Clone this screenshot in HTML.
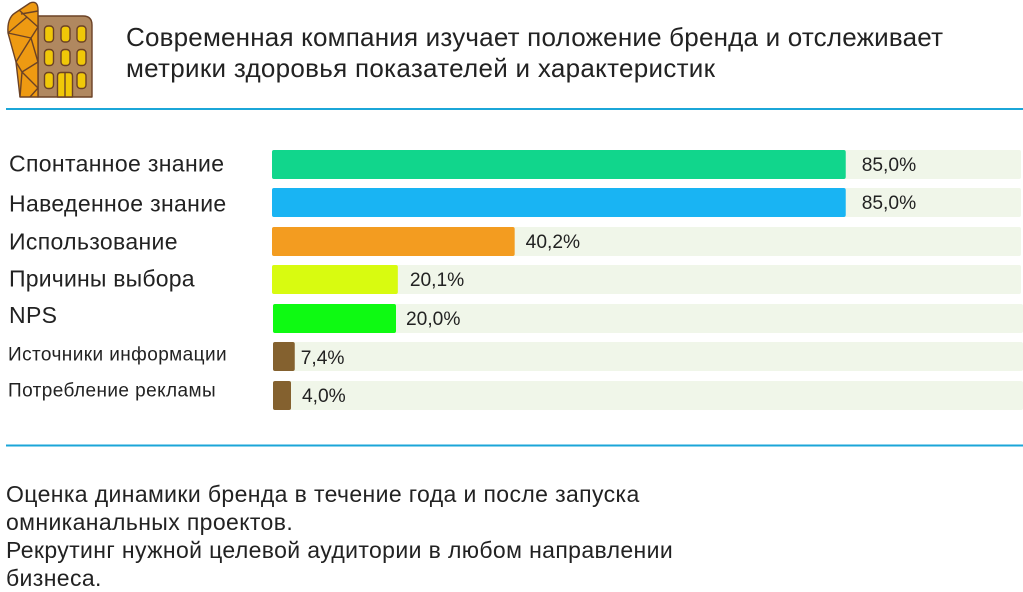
<!DOCTYPE html>
<html lang="ru">
<head>
<meta charset="utf-8">
<title>Метрики бренда</title>
<style>
html,body{margin:0;padding:0;background:#fff;width:1023px;height:592px;overflow:hidden}
svg{display:block}
text{font-family:"Liberation Sans","DejaVu Sans",sans-serif;fill:#222}
</style>
</head>
<body>
<svg id="chart" width="1023" height="592" viewBox="0 0 1023 592" xmlns="http://www.w3.org/2000/svg">
  <g stroke="#6b4226" stroke-width="1.4" stroke-linejoin="round">
    <path d="M38 16H83Q92 16 92 25V97H38Z" fill="#b08860"/>
    <path d="M20 97L16 62L8 33Q7 18 15 13L30 3Q38 0 38 10V97Z" fill="#ee9a12"/>
    <path d="M19 10L38 27M21 14L38 11M8 33L27 17M8 33L31 38L38 27M31 38L16 62M16 62L22 72M22 72L38 62M31 38L38 62M22 72L38 88M22 72L20 97M30 97L38 88" fill="none"/>
    <g fill="#f0c808">
      <rect x="44.500" y="26" width="9" height="16" rx="3.500"/>
      <rect x="61" y="26" width="9" height="16" rx="3.500"/>
      <rect x="77" y="26" width="9" height="16" rx="3.500"/>
      <rect x="44.500" y="49.500" width="9" height="16" rx="3.500"/>
      <rect x="61" y="49.500" width="9" height="16" rx="3.500"/>
      <rect x="77" y="49.500" width="9" height="16" rx="3.500"/>
      <rect x="44.500" y="72.500" width="9" height="16" rx="3.500"/>
      <rect x="77" y="72.500" width="9" height="16" rx="3.500"/>
      <path d="M57.500 97V76Q57.500 72.500 61 72.500H69Q72.500 72.500 72.500 76V97Z"/>
      <path d="M65 72.500V97" fill="none"/>
    </g>
  </g>
  <text x="126" y="46" font-size="26" textLength="817" lengthAdjust="spacing">Современная компания изучает положение бренда и отслеживает</text>
  <text x="126" y="77" font-size="26" textLength="589" lengthAdjust="spacing">метрики здоровья показателей и характеристик</text>
  <rect x="6" y="108" width="1017" height="2" fill="#1ba6d8"/>
  <g id="bars"></g>
  <rect x="6" y="444.500" width="1017" height="2" fill="#1ba6d8"/>
  <g font-size="23" letter-spacing="0.38">
    <text x="6" y="502">Оценка динамики бренда в течение года и после запуска</text>
    <text x="6" y="530">омниканальных проектов.</text>
    <text x="6" y="558">Рекрутинг нужной целевой аудитории в любом направлении</text>
    <text x="6" y="586">бизнеса.</text>
  </g>
</svg>
<script>
const categories = ['Спонтанное знание', 'Наведенное знание', 'Использование', 'Причины выбора', 'NPS', 'Источники информации', 'Потребление рекламы'];
const fillShare = [76.6, 76.6, 32.4, 16.8, 16.4, 2.9, 2.4];
const valueLabels = ['85,0%', '85,0%', '40,2%', '20,1%', '20,0%', '7,4%', '4,0%'];
const barColors = ['#11d68c', '#19b4f3', '#f39c20', '#d8fb10', '#0efa12', '#84612f', '#84612f'];

const NS = 'http://www.w3.org/2000/svg';
const group = document.getElementById('bars');
const labelNudge = [0, 2.5, 1.5, 1, 0, 0, -3];
const valueGap = [16, 16, 11, 12, 10, 6, 11];
function rowTop(i) { return Math.floor(150 + 38.5 * i); }
function trackLeft(i) { return i < 4 ? 272 : 273; }
function trackWidth(i) { return i < 4 ? 749 : 750; }
function xScale(v, i) { return trackWidth(i) * v / 100; }
function labelSize(i) { return i < 5 ? 23 : 19; }
function labelSpacing(i) { return i === 3 ? 0.2 : (i < 5 ? 0.35 : 0.42); }
function labelBaseline(i) { return rowTop(i) + (i < 4 ? 21.5 - i * 0.3 : (i === 4 ? 19 : 18.5)) + labelNudge[i]; }

categories.forEach(function (name, i) {
  const top = rowTop(i);
  const left = trackLeft(i);
  const w = xScale(fillShare[i], i);

  const label = document.createElementNS(NS, 'text');
  
  
  label.setAttribute('x', i < 5 ? 9 : 8);
  label.setAttribute('y', labelBaseline(i));
  label.setAttribute('font-size', labelSize(i));
  label.setAttribute('letter-spacing', labelSpacing(i));
  label.textContent = name;
  group.appendChild(label);

  const track = document.createElementNS(NS, 'rect');
  
  
  track.setAttribute('x', left);
  track.setAttribute('y', top);
  track.setAttribute('width', trackWidth(i));
  track.setAttribute('height', 29);
  track.setAttribute('rx', 2);
  track.setAttribute('fill', '#f0f6e9');
  group.appendChild(track);

  const bar = document.createElementNS(NS, 'rect');
  
  
  bar.setAttribute('x', left);
  bar.setAttribute('y', top);
  bar.setAttribute('width', w);
  bar.setAttribute('height', 29);
  bar.setAttribute('rx', 2);
  bar.setAttribute('fill', barColors[i]);
  group.appendChild(bar);

  const value = document.createElementNS(NS, 'text');
  
  
  value.setAttribute('x', left + w + valueGap[i]);
  value.setAttribute('y', top + (i === 5 ? 22 : 21));
  value.setAttribute('font-size', 19.2);
  value.textContent = valueLabels[i];
  group.appendChild(value);
});
</script>
</body>
</html>
